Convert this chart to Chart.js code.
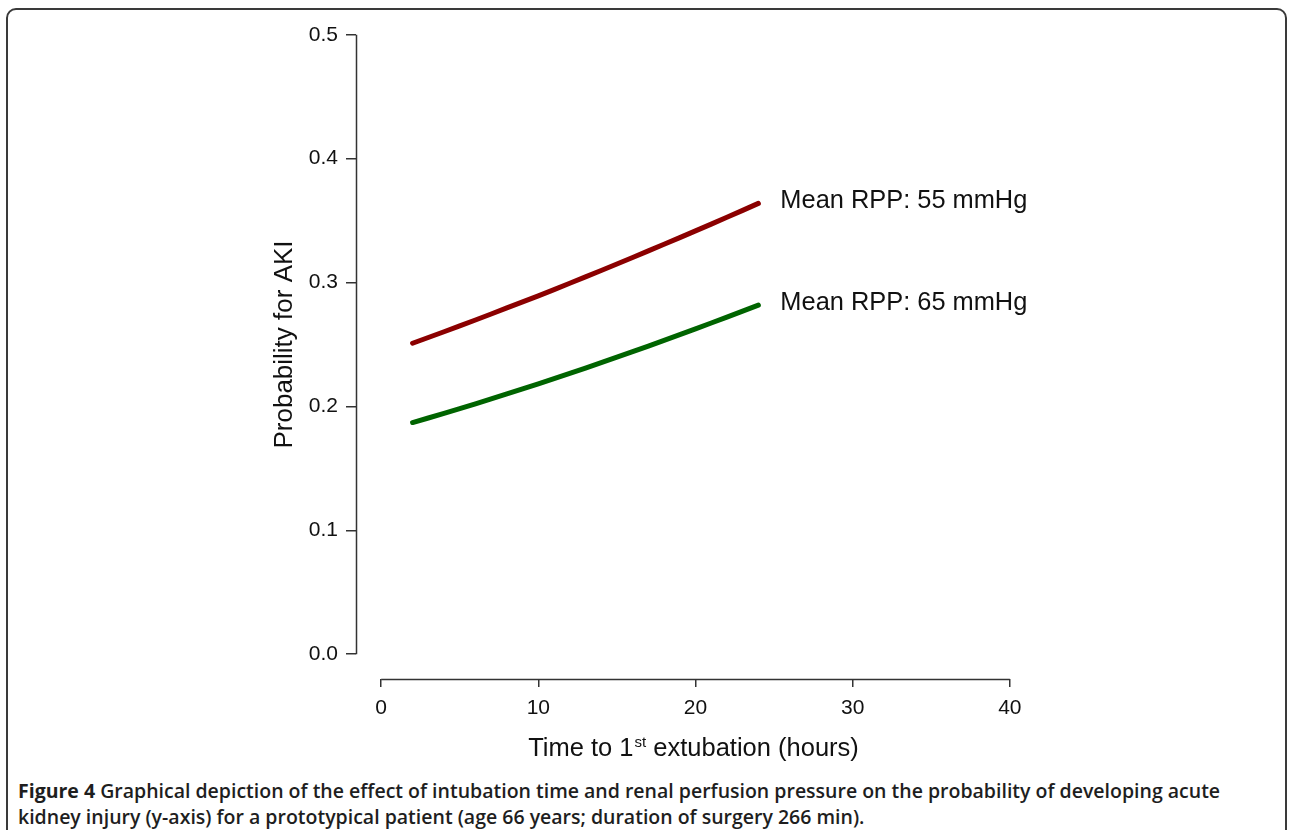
<!DOCTYPE html>
<html>
<head>
<meta charset="utf-8">
<script src="https://cdn.jsdelivr.net/npm/chart.js@4/dist/chart.umd.min.js"></script>
<style>
  html, body { margin:0; padding:0; background:#fff; width:1290px; height:830px; overflow:hidden; }
  #frame { position:absolute; left:6px; top:8px; width:1281px; height:900px; border:2px solid #3a3a3a; border-radius:10px; box-sizing:border-box; }
  #c { position:absolute; left:0; top:0; }
  #caption { position:absolute; left:18px; top:778px; width:1260px; font-family:"Open Sans", sans-serif; font-size:19.5px; font-weight:600; line-height:26px; color:#1e1e1e; white-space:nowrap; }
  #caption b { font-weight:700; }
</style>
</head>
<body>
<div id="frame"></div>
<canvas id="c" width="1290" height="770"></canvas>
<div id="caption"><b>Figure 4</b> Graphical depiction of the effect of intubation time and renal perfusion pressure on the probability of developing acute<br>kidney injury (y-axis) for a prototypical patient (age 66 years; duration of surgery 266 min).</div>
<script>
// ---- data ----
const hours = [2, 4, 6, 8, 10, 12, 14, 16, 18, 20, 22, 24];
const rpp55 = [0.2510, 0.2603, 0.2698, 0.2795, 0.2893, 0.2994, 0.3097, 0.3202, 0.3309, 0.3417, 0.3527, 0.3639];
const rpp65 = [0.1870, 0.1944, 0.2021, 0.2101, 0.2183, 0.2267, 0.2353, 0.2442, 0.2533, 0.2626, 0.2721, 0.2818];
const seriesNames = ["Mean RPP: 55 mmHg", "Mean RPP: 65 mmHg"];
const xTicks = [0, 10, 20, 30, 40];
const yTicks = [0.0, 0.1, 0.2, 0.3, 0.4, 0.5];
const yTitle = "Probability for AKI";
const xTitleParts = ["Time to 1", "st", " extubation (hours)"];

const FONT = '"Liberation Sans", Arial, Helvetica, sans-serif';
const AXIS_COLOR = '#333';

const axesPlugin = {
  id: 'rAxes',
  afterDraw(chart) {
    const ctx = chart.ctx;
    const xs = chart.scales.x, ys = chart.scales.y;
    const ca = chart.chartArea;
    ctx.save();
    ctx.strokeStyle = AXIS_COLOR;
    ctx.lineWidth = 1.5;
    const ax = Math.round(ca.left) + 0.5;
    ctx.beginPath();
    ctx.moveTo(ax, ys.getPixelForValue(yTicks[0]));
    ctx.lineTo(ax, ys.getPixelForValue(yTicks[yTicks.length - 1]));
    ctx.stroke();
    const ay = Math.round(ca.bottom) + 0.5;
    ctx.beginPath();
    ctx.moveTo(xs.getPixelForValue(xTicks[0]), ay);
    ctx.lineTo(xs.getPixelForValue(xTicks[xTicks.length - 1]), ay);
    ctx.stroke();

    // x title with superscript
    const big = '25.5px ' + FONT, small = '15px ' + FONT;
    ctx.fillStyle = '#111';
    ctx.textBaseline = 'alphabetic';
    ctx.textAlign = 'left';
    ctx.font = big;
    const w0 = ctx.measureText(xTitleParts[0]).width;
    const w2 = ctx.measureText(xTitleParts[2]).width;
    ctx.font = small;
    const w1 = ctx.measureText(xTitleParts[1]).width;
    const total = w0 + w1 + 1 + w2;
    const cx = (ca.left + ca.right) / 2 - 2;
    let x = cx - total / 2;
    const base = 756;
    ctx.font = big;
    ctx.fillText(xTitleParts[0], x, base);
    x += w0;
    ctx.font = small;
    ctx.fillText(xTitleParts[1], x + 1, base - 9);
    x += w1 + 1;
    ctx.font = big;
    ctx.fillText(xTitleParts[2], x, base);

    // series labels at line ends
    ctx.font = '25.4px ' + FONT;
    ctx.textBaseline = 'middle';
    chart.data.datasets.forEach((ds, i) => {
      const meta = chart.getDatasetMeta(i);
      const last = meta.data[meta.data.length - 1];
      ctx.fillText(seriesNames[i], last.x + 22, last.y - 2);
    });
    ctx.restore();
  }
};

new Chart(document.getElementById('c'), {
  type: 'line',
  data: {
    datasets: [
      { label: seriesNames[0], data: hours.map((h, i) => ({ x: h, y: rpp55[i] })), borderColor: '#8b0000', borderWidth: 5, borderCapStyle: 'round', borderJoinStyle: 'round', pointRadius: 0, tension: 0.3, fill: false },
      { label: seriesNames[1], data: hours.map((h, i) => ({ x: h, y: rpp65[i] })), borderColor: '#006400', borderWidth: 5, borderCapStyle: 'round', borderJoinStyle: 'round', pointRadius: 0, tension: 0.3, fill: false }
    ]
  },
  options: {
    responsive: false,
    devicePixelRatio: 1,
    animation: false,
    layout: { padding: { left: 0, top: 10, right: 255, bottom: 0 } },
    plugins: { legend: { display: false }, tooltip: { enabled: false } },
    scales: {
      x: {
        type: 'linear', min: -1.6, max: 41.6,
        afterBuildTicks: s => { s.ticks = xTicks.map(v => ({ value: v })); },
        afterFit: s => { s.height = 91; s.paddingLeft = 0; s.paddingRight = 0; s.paddingTop = 0; s.paddingBottom = 0; },
        ticks: { font: { size: 21, family: FONT }, color: '#111', padding: 9, maxRotation: 0, autoSkip: false, callback: v => String(v) },
        grid: { drawOnChartArea: false, drawTicks: true, tickLength: 8, color: AXIS_COLOR, lineWidth: 1.5 },
        border: { display: false }
      },
      y: {
        type: 'linear', min: -0.02, max: 0.52,
        afterBuildTicks: s => { s.ticks = yTicks.map(v => ({ value: v })); },
        afterFit: s => { s.width = 356; s.paddingTop = 0; s.paddingBottom = 0; s.paddingLeft = 0; s.paddingRight = 0; },
        ticks: { font: { size: 21, family: FONT }, color: '#111', padding: 8, autoSkip: false, callback: v => Number(v).toFixed(1) },
        grid: { drawOnChartArea: false, drawTicks: true, tickLength: 10, color: AXIS_COLOR, lineWidth: 1.5 },
        border: { display: false },
        title: { display: true, text: yTitle, color: '#111', font: { size: 26, family: FONT }, padding: { top: 269, bottom: 0 } }
      }
    }
  },
  plugins: [axesPlugin]
});
</script>
</body>
</html>
